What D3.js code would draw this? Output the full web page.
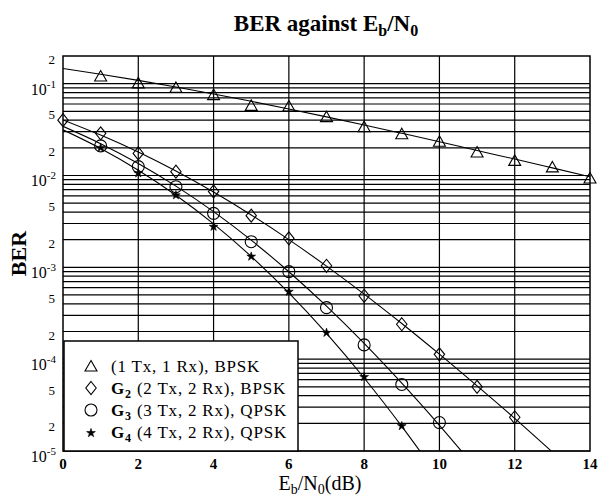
<!DOCTYPE html>
<html>
<head>
<meta charset="utf-8">
<script src="https://cdn.jsdelivr.net/npm/d3@7"></script>
<style>
  html, body { margin: 0; padding: 0; background: #fff; }
  svg { display: block; font-family: "Liberation Serif", "Times New Roman", serif; }
</style>
</head>
<body>
<svg id="chart" width="598" height="497"></svg>
<script>
// ---- data -------------------------------------------------------------
const ebn0 = [0, 1, 2, 3, 4, 5, 6, 7, 8, 9, 10, 11, 12, 13, 14];

// analytic curves, sampled at each dB
const bpskCurve = [0.1464, 0.1267, 0.1085, 0.0919, 0.0771, 0.0642, 0.0530, 0.0435,
                   0.0355, 0.0288, 0.0233, 0.0187, 0.0151, 0.0121, 0.00967];
const g2Curve = [0.0403, 0.02752, 0.01799, 0.01117, 0.006595, 0.003717, 0.002003,
                 0.0010304, 5.108e-4, 2.443e-4, 1.133e-4, 5.116e-5, 2.267e-5, 9.75e-6];
const g3Curve = [0.0343, 0.02222, 0.013505, 0.007656, 0.004037, 0.0019744, 8.956e-4,
                 3.779e-4, 1.4865e-4, 5.478e-5, 1.9027e-5, 6.27e-6];
const g4Curve = [0.03139, 0.019668, 0.011418, 0.006096, 0.0029718, 0.0013152, 5.265e-4,
                 1.905e-4, 6.236e-5, 1.856e-5, 5.05e-6];

// simulated points
const bpskSimX = [1, 2, 3, 4, 5, 6, 7, 8, 9, 10, 11, 12, 13, 14];
const bpskSim = [0.121, 0.102, 0.091, 0.076, 0.058, 0.057, 0.0437, 0.034,
                 0.0285, 0.0236, 0.018, 0.0146, 0.0124, 0.0094];
const g2SimX = [0, 1, 2, 3, 4, 5, 6, 7, 8, 9, 10, 11, 12];
const g2Sim = [0.040, 0.0288, 0.0174, 0.011, 0.0067, 0.00365, 0.00207, 0.00104,
               0.00049, 0.00024, 0.000113, 0.00005, 0.0000233];
const g3SimX = [1, 2, 3, 4, 5, 6, 7, 8, 9, 10];
const g3Sim = [0.021, 0.0125, 0.00755, 0.00387, 0.0019, 0.000897, 0.000364,
               0.000143, 0.000053, 0.0000204];
const g4SimX = [1, 2, 3, 4, 5, 6, 7, 8, 9];
const g4Sim = [0.020, 0.0106, 0.0061, 0.00277, 0.00131, 0.000543, 0.000194,
               0.000064, 0.0000187];

const xTicks = [0, 2, 4, 6, 8, 10, 12, 14];
const yDecades = [1e-1, 1e-2, 1e-3, 1e-4, 1e-5];
const yMinorLabelled = [0.2, 5e-2, 2e-2, 5e-3, 2e-3, 5e-4, 2e-4, 5e-5, 2e-5];

const legendLabels = [
  { bold: "", sub: "", rest: "(1 Tx, 1 Rx), BPSK", shape: "triangle" },
  { bold: "G", sub: "2", rest: " (2 Tx, 2 Rx), BPSK", shape: "diamond" },
  { bold: "G", sub: "3", rest: " (3 Tx, 2 Rx), QPSK", shape: "circle" },
  { bold: "G", sub: "4", rest: " (4 Tx, 2 Rx), QPSK", shape: "star" }
];

// ---- layout -----------------------------------------------------------
const svg = d3.select("#chart");
const plot = { left: 63, right: 590, top: 56, bottom: 451 };

const x = d3.scaleLinear().domain([0, 14]).range([plot.left, plot.right]);
const y = d3.scaleLog().domain([1e-5, 0.2]).range([plot.bottom, plot.top]);

svg.append("rect").attr("width", 598).attr("height", 497).attr("fill", "#fff");

svg.append("defs").append("clipPath").attr("id", "plotClip")
  .append("rect")
  .attr("x", plot.left).attr("y", plot.top)
  .attr("width", plot.right - plot.left).attr("height", plot.bottom - plot.top);

// ---- grid -------------------------------------------------------------
const gridY = y.ticks().filter(v => v <= 0.1000001);
svg.append("g").selectAll("line").data(gridY).join("line")
  .attr("x1", plot.left).attr("x2", plot.right)
  .attr("y1", d => y(d)).attr("y2", d => y(d))
  .attr("stroke", "#000").attr("stroke-width", 1.2);

svg.append("g").selectAll("line").data(xTicks.filter(v => v > 0 && v < 14)).join("line")
  .attr("x1", d => x(d)).attr("x2", d => x(d))
  .attr("y1", plot.top).attr("y2", plot.bottom)
  .attr("stroke", "#000").attr("stroke-width", 1.2);

// ---- curves -----------------------------------------------------------
const curveLine = d3.line()
  .x(d => x(d[0])).y(d => y(d[1]))
  .curve(d3.curveMonotoneX);

const curves = [bpskCurve, g2Curve, g3Curve, g4Curve];
svg.append("g").attr("clip-path", "url(#plotClip)")
  .selectAll("path").data(curves).join("path")
  .attr("d", c => curveLine(c.map((v, i) => [ebn0[i], v])))
  .attr("fill", "none").attr("stroke", "#000").attr("stroke-width", 1.1);

// ---- markers ----------------------------------------------------------
function markerPath(shape) {
  const p = d3.path();
  if (shape === "triangle") {
    p.moveTo(0, -5.5); p.lineTo(6, 5); p.lineTo(-6, 5); p.closePath();
    return p.toString();
  }
  if (shape === "diamond") {
    p.moveTo(0, -6.5); p.lineTo(5.2, 0); p.lineTo(0, 6.5); p.lineTo(-5.2, 0); p.closePath();
    return p.toString();
  }
  if (shape === "circle") {
    p.arc(0, 0, 6, 0, 2 * Math.PI);
    return p.toString();
  }
  return d3.symbol(d3.symbolStar, 24)();
}

const markerSets = [
  { xs: bpskSimX, vs: bpskSim, shape: "triangle" },
  { xs: g2SimX, vs: g2Sim, shape: "diamond" },
  { xs: g3SimX, vs: g3Sim, shape: "circle" },
  { xs: g4SimX, vs: g4Sim, shape: "star" }
];

markerSets.forEach(set => {
  const filled = set.shape === "star";
  svg.append("g").selectAll("path").data(set.vs.map((v, i) => [set.xs[i], v])).join("path")
    .attr("transform", d => `translate(${x(d[0])},${y(d[1])})`)
    .attr("d", markerPath(set.shape))
    .attr("fill", filled ? "#000" : "none")
    .attr("stroke", "#000").attr("stroke-width", filled ? 0.6 : 1.1);
});

// ---- frame ------------------------------------------------------------
svg.append("rect")
  .attr("x", plot.left).attr("y", plot.top)
  .attr("width", plot.right - plot.left).attr("height", plot.bottom - plot.top)
  .attr("fill", "none").attr("stroke", "#000").attr("stroke-width", 1.5);

// ---- axes labels ------------------------------------------------------
svg.append("g").selectAll("text").data(xTicks).join("text")
  .attr("x", d => x(d)).attr("y", 469)
  .attr("text-anchor", "middle")
  .attr("font-size", 15).attr("font-weight", "bold")
  .text(d => d);

// decades as 10^-k, superscript sitting on the grid line
const decG = svg.append("g").selectAll("text").data(yDecades).join("text")
  .attr("x", 56).attr("y", d => y(d) + 11)
  .attr("text-anchor", "end")
  .attr("font-size", 16);
decG.append("tspan").text("10");
decG.append("tspan").attr("font-size", 11).attr("dy", -7)
  .text(d => "-" + Math.round(-Math.log10(d)));

svg.append("g").selectAll("text").data(yMinorLabelled).join("text")
  .attr("x", 55).attr("y", d => y(d) + 8)
  .attr("text-anchor", "end")
  .attr("font-size", 13)
  .text(d => Math.round(d / Math.pow(10, Math.floor(Math.log10(d) + 1e-9))));

// y axis title
svg.append("text")
  .attr("transform", `translate(26,${(plot.top + plot.bottom) / 2}) rotate(-90)`)
  .attr("text-anchor", "middle")
  .attr("font-size", 22).attr("font-weight", "bold")
  .text("BER");

// x axis title: Eb/N0(dB)
const xt = svg.append("text")
  .attr("x", 320).attr("y", 490)
  .attr("text-anchor", "middle")
  .attr("font-size", 20);
xt.append("tspan").text("E");
xt.append("tspan").attr("font-size", 14).attr("dy", 4).text("b");
xt.append("tspan").attr("dy", -4).text("/N");
xt.append("tspan").attr("font-size", 14).attr("dy", 4).text("0");
xt.append("tspan").attr("dy", -4).text("(dB)");

// chart title
const tt = svg.append("text")
  .attr("x", 326).attr("y", 31)
  .attr("text-anchor", "middle")
  .attr("font-size", 23).attr("font-weight", "bold");
tt.append("tspan").text("BER against E");
tt.append("tspan").attr("font-size", 16).attr("dy", 5).text("b");
tt.append("tspan").attr("dy", -5).text("/N");
tt.append("tspan").attr("font-size", 16).attr("dy", 5).text("0");

// ---- legend -----------------------------------------------------------
const legend = svg.append("g");
legend.append("rect")
  .attr("x", 64).attr("y", 341).attr("width", 234).attr("height", 110)
  .attr("fill", "#fff").attr("stroke", "#000").attr("stroke-width", 1.5);

const rows = legend.selectAll("g.row").data(legendLabels).join("g")
  .attr("class", "row")
  .attr("transform", (d, i) => `translate(0,${372 + i * 22})`);

rows.append("path")
  .attr("transform", d => `translate(91,${d.shape === "star" ? -5 : -6})`)
  .attr("d", d => markerPath(d.shape))
  .attr("fill", d => d.shape === "star" ? "#000" : "none")
  .attr("stroke", "#000")
  .attr("stroke-width", d => d.shape === "star" ? 0.6 : 1.1);

const rowText = rows.append("text").attr("x", 111).attr("y", 0)
  .attr("font-size", 17).attr("letter-spacing", 0.8);
rowText.filter(d => d.bold).append("tspan").attr("font-weight", "bold").text(d => d.bold);
rowText.filter(d => d.sub).append("tspan").attr("font-weight", "bold")
  .attr("font-size", 12).attr("dy", 4).text(d => d.sub);
rowText.append("tspan").attr("dy", d => d.sub ? -4 : 0).text(d => d.rest);
</script>
</body>
</html>
